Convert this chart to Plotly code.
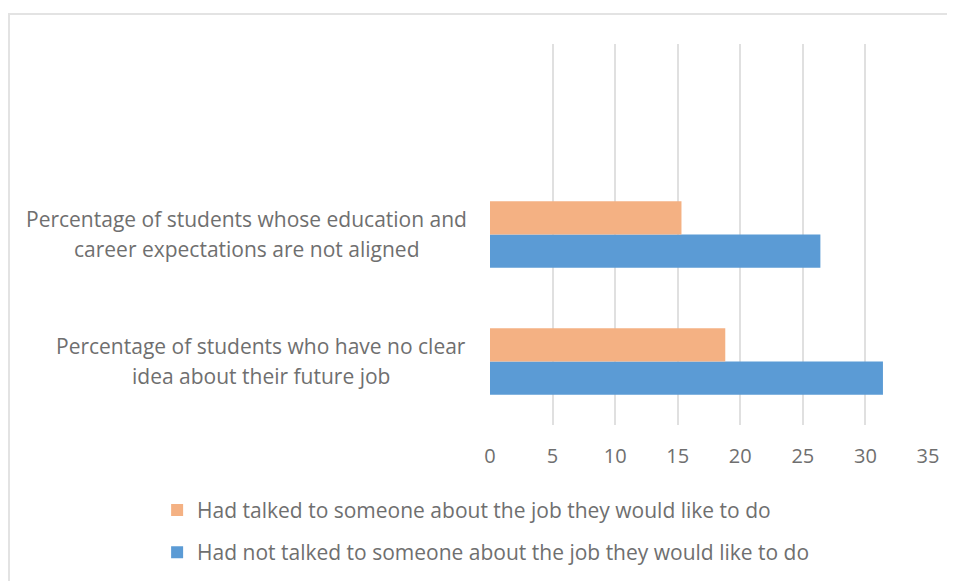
import plotly.graph_objs as go

# Données
categories = [
    "Percentage of students who have no clear<br>idea about their future job",
    "Percentage of students whose education and<br>career expectations are not aligned",
]
had_not_talked = [31.4, 26.4]
had_talked = [18.8, 15.3]
series_names = [
    "Had not talked to someone about the job they would like to do",
    "Had talked to someone about the job they would like to do",
]
x_ticks = [0, 5, 10, 15, 20, 25, 30, 35]

FONT = "Open Sans"
TEXT_COLOR = "#6f6f6f"

# Géométrie (la page ajoute 8 px de marge autour de la figure)
W, H = 947, 573
L, R, T, B = 482, 27, 36, 156
PW, PH = W - L - R, H - T - B

fig = go.Figure()
fig.add_trace(go.Bar(
    y=categories, x=had_not_talked, orientation="h",
    name=series_names[0], legendgroup="b", legendrank=2,
    marker=dict(color="#5B9BD5", line=dict(width=0)),
))
fig.add_trace(go.Bar(
    y=categories, x=had_talked, orientation="h",
    name=series_names[1], legendgroup="a", legendrank=1,
    marker=dict(color="#F4B183", line=dict(width=0)),
))

# Libellés de catégories : lignes centrées, interligne large
label_centers = [253, 238.5]  # centre horizontal du bloc, px figure
for cat, cx in zip(categories, label_centers):
    lines = cat.split("<br>")
    for i, line in enumerate(lines):
        fig.add_annotation(
            x=(cx - L) / PW, xref="paper", xanchor="center",
            y=cat, yref="y", yanchor="middle",
            yshift=16 - 30 * i,
            text=line, showarrow=False,
            font=dict(family=FONT, size=21, color=TEXT_COLOR),
        )

# Cadre du graphique
fig.add_shape(
    type="rect", xref="paper", yref="paper",
    x0=(1 - L) / PW, x1=(W + 10 - L) / PW,
    y0=-(B + 10) / PH, y1=(PH + T - 6) / PH,
    line=dict(color="#E3E3E3", width=2), layer="below",
)

fig.update_layout(
    width=W, height=H,
    margin=dict(l=L, r=R, t=T, b=B, autoexpand=False),
    barmode="group", bargap=0.476, bargroupgap=0,
    plot_bgcolor="white", paper_bgcolor="white",
    font=dict(family=FONT, size=20, color=TEXT_COLOR),
    xaxis=dict(
        range=[0, 35], tickvals=x_ticks, showgrid=True,
        gridcolor="#E0E0E0", gridwidth=2, zeroline=False, showline=False,
        ticks="", ticklabelstandoff=17, fixedrange=True,
        tickfont=dict(family=FONT, size=20, color=TEXT_COLOR),
    ),
    yaxis=dict(
        type="category", categoryarray=categories, range=[-0.5, 2.5],
        showticklabels=False, showgrid=False, zeroline=False,
        showline=False, fixedrange=True,
    ),
    legend=dict(
        x=-0.760, xanchor="left", y=-0.170, yanchor="top",
        traceorder="grouped", tracegroupgap=12,
        font=dict(family=FONT, size=21, color=TEXT_COLOR),
        bgcolor="rgba(0,0,0,0)",
    ),
    showlegend=True,
)

fig.write_html("out.html")
